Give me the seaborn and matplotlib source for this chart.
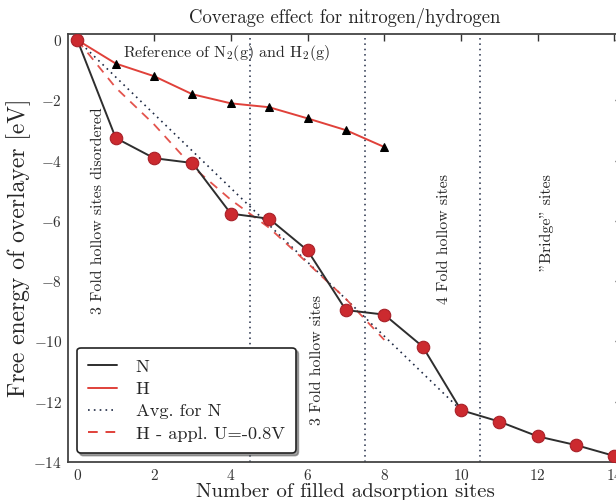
import matplotlib
matplotlib.use("Agg")
import matplotlib.pyplot as plt
from matplotlib.lines import Line2D
import seaborn as sns
import pandas as pd

# ---- data ----
n_sites = [0, 1, 2, 3, 4, 5, 6, 7, 8, 9, 10, 11, 12, 13, 14]
n_energy = [0.0, -3.25, -3.92, -4.08, -5.76, -5.93, -6.98, -8.96, -9.11,
            -10.17, -12.28, -12.66, -13.15, -13.44, -13.80]

h_sites = [0, 1, 2, 3, 4, 5, 6, 7, 8]
h_energy = [0.0, -0.78, -1.20, -1.80, -2.10, -2.23, -2.60, -2.99, -3.55]

avg_sites = [0, 10]
avg_energy = [0.0, -12.28]

happl_sites = [0, 1, 2, 3, 4, 5, 6, 7, 8]
happl_energy = [0.0, -1.58, -2.80, -4.20, -5.30, -6.23, -7.40, -8.59, -9.95]

site_boundaries = [4.5, 7.5, 10.5]

legend_labels = ["N", "H", "Avg. for N", "H - appl. U=-0.8V"]
title_text = "Coverage effect for nitrogen/hydrogen"
xlabel_text = "Number of filled adsorption sites"
ylabel_text = "Free energy of overlayer [eV]"

xticks = [0, 2, 4, 6, 8, 10, 12, 14]
yticks = [0, -2, -4, -6, -8, -10, -12, -14]

# ---- style ----
sns.set_style("white")
plt.rcParams["font.family"] = ["cmr10", "DejaVu Serif"]
plt.rcParams["mathtext.fontset"] = "cm"
plt.rcParams["axes.formatter.use_mathtext"] = True
plt.rcParams["axes.unicode_minus"] = True

N_LINE = "#2e2e2e"
RED = "#e0413a"
MARK_RED = "#cc2a2f"
DOT = "#1f2a44"

fig = plt.figure(figsize=(6.16, 5.0), dpi=100)
ax = fig.add_axes([0.110, 0.076, 0.900, 0.856])

df_n = pd.DataFrame({"x": n_sites, "y": n_energy})
df_h = pd.DataFrame({"x": h_sites, "y": h_energy})
df_avg = pd.DataFrame({"x": avg_sites, "y": avg_energy})
df_happl = pd.DataFrame({"x": happl_sites, "y": happl_energy})

for xv in site_boundaries:
    ax.axvline(xv, color=DOT, ls=(0, (1, 2.5)), lw=1.1, zorder=1)

sns.lineplot(data=df_avg, x="x", y="y", ax=ax, color=DOT, lw=1.2,
             ls=(0, (1, 2.5)), zorder=2)
sns.lineplot(data=df_happl, x="x", y="y", ax=ax, color=RED, lw=1.3,
             ls=(0, (5, 4)), zorder=2, alpha=0.9)
sns.lineplot(data=df_h, x="x", y="y", ax=ax, color=RED, lw=1.4, zorder=3,
             marker="^", markersize=6, markerfacecolor="black",
             markeredgecolor="black")
sns.lineplot(data=df_n, x="x", y="y", ax=ax, color=N_LINE, lw=1.4, zorder=4,
             marker="o", markersize=9, markerfacecolor=MARK_RED,
             markeredgecolor="#a82028", markeredgewidth=0.8)

ax.set_xlim(-0.25, 14.2)
ax.set_ylim(-14, 0.2)
ax.set_xticks(xticks)
ax.set_yticks(yticks)
ax.tick_params(direction="in", length=5, width=1, top=True, right=True,
               labelsize=11, colors="#333333", pad=4)
for s in ax.spines.values():
    s.set_color("#444444")
    s.set_linewidth(1.3)

ax.set_title(title_text, fontsize=13.5, pad=8)
ax.set_xlabel(xlabel_text, fontsize=15, labelpad=0)
ax.set_ylabel(ylabel_text, fontsize=17, labelpad=2)

ax.text(1.2, -0.42, r"Reference of N$_2$(g) and H$_2$(g)", fontsize=11.5,
        va="center", ha="left")
ax.text(0.53, -5.65, "3 Fold hollow sites disordered", rotation=90,
        fontsize=11.4, va="center", ha="center")
ax.text(6.25, -10.6, "3 Fold hollow sites", rotation=90,
        fontsize=11.4, va="center", ha="center")
ax.text(9.55, -4.45, "4 Fold hollow sites", rotation=90,
        fontsize=11.4, va="top", ha="center")
ax.text(12.25, -4.45, '"Bridge" sites', rotation=90,
        fontsize=11.4, va="top", ha="center")

handles = [
    Line2D([], [], color=N_LINE, lw=1.4),
    Line2D([], [], color=RED, lw=1.4),
    Line2D([], [], color=DOT, lw=1.2, ls=(0, (1, 2.5))),
    Line2D([], [], color=RED, lw=1.4, ls=(0, (5, 4))),
]
leg = ax.legend(handles, legend_labels, loc="lower left",
                bbox_to_anchor=(0.0, 0.0), fontsize=13.2, frameon=True,
                fancybox=True, shadow=True, framealpha=1,
                handlelength=1.6, borderpad=0.6, labelspacing=0.36,
                handletextpad=1.0)
leg.get_frame().set_edgecolor("#222222")
leg.get_frame().set_linewidth(1.2)

fig.savefig("out.png", dpi=100)
